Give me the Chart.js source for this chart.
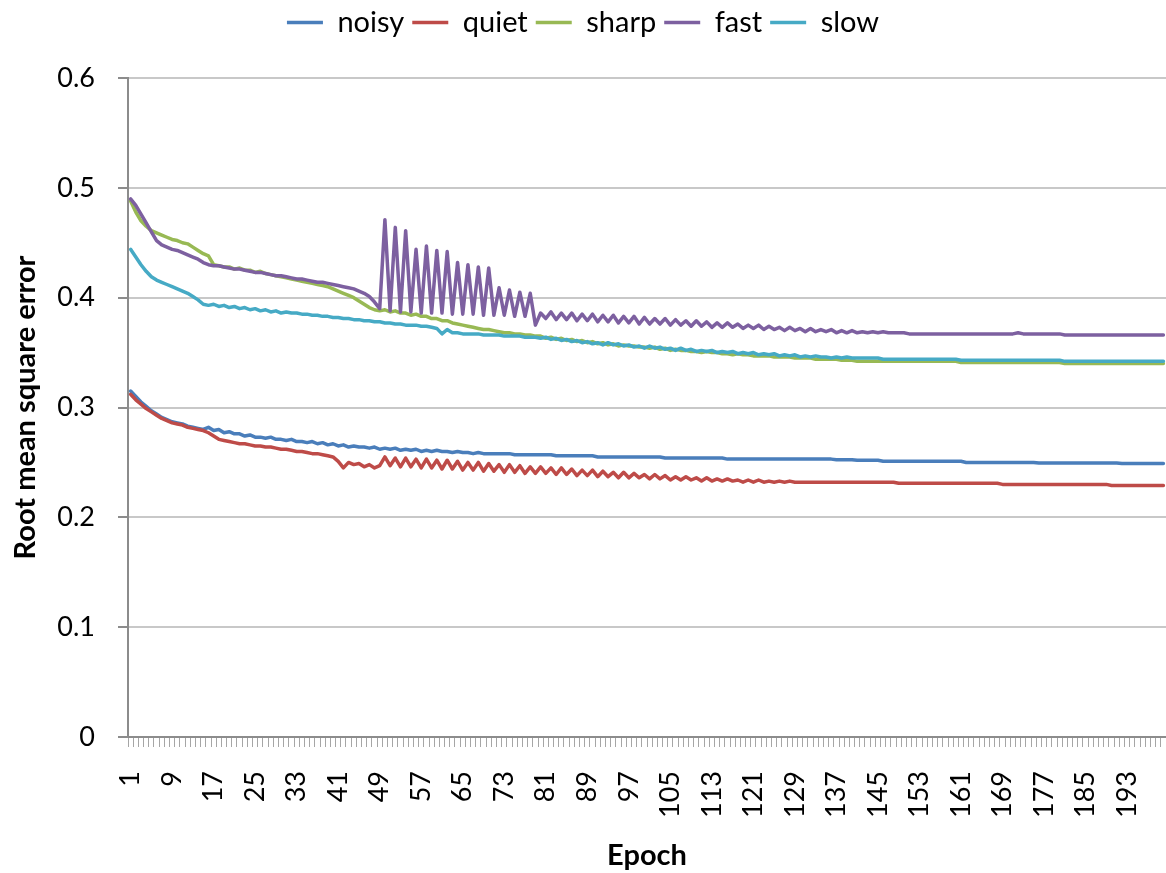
<!DOCTYPE html>
<html>
<head>
<meta charset="utf-8">
<script src="https://cdn.jsdelivr.net/npm/chart.js@4/dist/chart.umd.min.js"></script>
<style>
  body { margin: 0; background: #fff; }
  #wrap { width: 1166px; height: 873px; }
</style>
</head>
<body>
<div id="wrap"><canvas id="rmse" width="1166" height="873"></canvas></div>
<script>
// epochs 1..200 (x categories)
const epochs = [
  1,2,3,4,5,6,7,8,9,10,11,12,13,14,15,16,17,18,19,20,
  21,22,23,24,25,26,27,28,29,30,31,32,33,34,35,36,37,38,39,40,
  41,42,43,44,45,46,47,48,49,50,51,52,53,54,55,56,57,58,59,60,
  61,62,63,64,65,66,67,68,69,70,71,72,73,74,75,76,77,78,79,80,
  81,82,83,84,85,86,87,88,89,90,91,92,93,94,95,96,97,98,99,100,
  101,102,103,104,105,106,107,108,109,110,111,112,113,114,115,116,117,118,119,120,
  121,122,123,124,125,126,127,128,129,130,131,132,133,134,135,136,137,138,139,140,
  141,142,143,144,145,146,147,148,149,150,151,152,153,154,155,156,157,158,159,160,
  161,162,163,164,165,166,167,168,169,170,171,172,173,174,175,176,177,178,179,180,
  181,182,183,184,185,186,187,188,189,190,191,192,193,194,195,196,197,198,199,200
];

const noisy = [
  0.315,0.310,0.305,0.301,0.297,0.294,0.291,0.289,0.287,0.286,
  0.285,0.283,0.282,0.281,0.280,0.282,0.279,0.280,0.277,0.278,
  0.276,0.276,0.274,0.275,0.273,0.273,0.272,0.273,0.271,0.271,
  0.270,0.271,0.269,0.269,0.268,0.269,0.267,0.268,0.266,0.267,
  0.265,0.266,0.264,0.265,0.264,0.264,0.263,0.264,0.262,0.263,
  0.262,0.263,0.261,0.262,0.261,0.262,0.260,0.261,0.260,0.261,
  0.260,0.260,0.259,0.260,0.259,0.259,0.258,0.259,0.258,0.258,
  0.258,0.258,0.258,0.258,0.257,0.257,0.257,0.257,0.257,0.257,
  0.257,0.257,0.256,0.256,0.256,0.256,0.256,0.256,0.256,0.256,
  0.255,0.255,0.255,0.255,0.255,0.255,0.255,0.255,0.255,0.255,
  0.255,0.255,0.255,0.254,0.254,0.254,0.254,0.254,0.254,0.254,
  0.254,0.254,0.254,0.254,0.254,0.253,0.253,0.253,0.253,0.253,
  0.253,0.253,0.253,0.253,0.253,0.253,0.253,0.253,0.253,0.253,
  0.253,0.253,0.253,0.253,0.253,0.253,0.2525,0.2525,0.2525,0.2525,
  0.252,0.252,0.252,0.252,0.252,0.251,0.251,0.251,0.251,0.251,
  0.251,0.251,0.251,0.251,0.251,0.251,0.251,0.251,0.251,0.251,
  0.251,0.250,0.250,0.250,0.250,0.250,0.250,0.250,0.250,0.250,
  0.250,0.250,0.250,0.250,0.250,0.2495,0.2495,0.2495,0.2495,0.2495,
  0.2495,0.2495,0.2495,0.2495,0.2495,0.2495,0.2495,0.2495,0.2495,0.2495,
  0.2495,0.249,0.249,0.249,0.249,0.249,0.249,0.249,0.249,0.249
];

const quiet = [
  0.312,0.307,0.303,0.299,0.296,0.293,0.290,0.288,0.286,0.285,
  0.284,0.282,0.281,0.280,0.279,0.277,0.274,0.271,0.270,0.269,
  0.268,0.267,0.267,0.266,0.265,0.265,0.264,0.264,0.263,0.262,
  0.262,0.261,0.260,0.260,0.259,0.258,0.258,0.257,0.256,0.255,
  0.251,0.245,0.250,0.248,0.249,0.246,0.248,0.245,0.247,0.255,
  0.247,0.254,0.246,0.254,0.246,0.253,0.245,0.253,0.245,0.252,
  0.244,0.252,0.244,0.251,0.243,0.250,0.243,0.250,0.242,0.249,
  0.242,0.248,0.241,0.248,0.241,0.247,0.240,0.246,0.240,0.246,
  0.240,0.245,0.239,0.245,0.239,0.244,0.238,0.243,0.238,0.243,
  0.237,0.242,0.237,0.241,0.236,0.241,0.236,0.240,0.236,0.239,
  0.235,0.239,0.235,0.238,0.234,0.237,0.234,0.237,0.234,0.236,
  0.233,0.236,0.233,0.235,0.233,0.235,0.233,0.234,0.232,0.234,
  0.232,0.234,0.232,0.233,0.232,0.233,0.232,0.233,0.232,0.232,
  0.232,0.232,0.232,0.232,0.232,0.232,0.232,0.232,0.232,0.232,
  0.232,0.232,0.232,0.232,0.232,0.232,0.232,0.232,0.231,0.231,
  0.231,0.231,0.231,0.231,0.231,0.231,0.231,0.231,0.231,0.231,
  0.231,0.231,0.231,0.231,0.231,0.231,0.231,0.231,0.230,0.230,
  0.230,0.230,0.230,0.230,0.230,0.230,0.230,0.230,0.230,0.230,
  0.230,0.230,0.230,0.230,0.230,0.230,0.230,0.230,0.230,0.229,
  0.229,0.229,0.229,0.229,0.229,0.229,0.229,0.229,0.229,0.229
];

const sharp = [
  0.488,0.478,0.470,0.465,0.461,0.459,0.457,0.455,0.453,0.452,
  0.450,0.449,0.446,0.443,0.440,0.438,0.430,0.429,0.428,0.428,
  0.426,0.427,0.425,0.425,0.423,0.424,0.422,0.421,0.420,0.419,
  0.418,0.417,0.416,0.415,0.414,0.413,0.412,0.411,0.410,0.408,
  0.406,0.404,0.402,0.400,0.397,0.394,0.391,0.389,0.388,0.389,
  0.387,0.388,0.386,0.386,0.384,0.385,0.383,0.383,0.381,0.381,
  0.379,0.379,0.377,0.376,0.375,0.374,0.373,0.372,0.371,0.371,
  0.370,0.369,0.368,0.368,0.367,0.367,0.366,0.366,0.365,0.365,
  0.363,0.364,0.362,0.363,0.361,0.362,0.360,0.361,0.359,0.360,
  0.358,0.359,0.357,0.358,0.356,0.357,0.356,0.356,0.355,0.355,
  0.354,0.355,0.353,0.354,0.352,0.353,0.352,0.352,0.351,0.351,
  0.350,0.351,0.350,0.350,0.349,0.349,0.348,0.349,0.348,0.348,
  0.347,0.347,0.347,0.347,0.346,0.346,0.346,0.346,0.345,0.345,
  0.345,0.345,0.344,0.344,0.344,0.344,0.344,0.343,0.343,0.343,
  0.342,0.342,0.342,0.342,0.342,0.342,0.342,0.342,0.342,0.342,
  0.342,0.342,0.342,0.342,0.342,0.342,0.342,0.342,0.342,0.342,
  0.341,0.341,0.341,0.341,0.341,0.341,0.341,0.341,0.341,0.341,
  0.341,0.341,0.341,0.341,0.341,0.341,0.341,0.341,0.341,0.341,
  0.340,0.340,0.340,0.340,0.340,0.340,0.340,0.340,0.340,0.340,
  0.340,0.340,0.340,0.340,0.340,0.340,0.340,0.340,0.340,0.340
];

const fast = [
  0.490,0.484,0.476,0.468,0.460,0.452,0.448,0.446,0.444,0.443,
  0.441,0.439,0.437,0.435,0.432,0.430,0.429,0.429,0.428,0.427,
  0.426,0.426,0.425,0.424,0.423,0.423,0.422,0.421,0.420,0.420,
  0.419,0.418,0.417,0.417,0.416,0.415,0.414,0.414,0.413,0.412,
  0.411,0.410,0.409,0.408,0.406,0.404,0.401,0.396,0.390,0.471,
  0.388,0.464,0.387,0.461,0.387,0.444,0.386,0.447,0.386,0.443,
  0.386,0.442,0.385,0.432,0.385,0.430,0.385,0.428,0.384,0.427,
  0.384,0.409,0.384,0.407,0.383,0.405,0.383,0.404,0.375,0.386,
  0.381,0.387,0.380,0.386,0.380,0.386,0.379,0.385,0.379,0.385,
  0.378,0.384,0.378,0.384,0.377,0.383,0.377,0.383,0.376,0.382,
  0.376,0.381,0.376,0.381,0.375,0.380,0.375,0.379,0.374,0.379,
  0.374,0.378,0.373,0.377,0.373,0.377,0.373,0.376,0.372,0.375,
  0.372,0.375,0.371,0.374,0.371,0.373,0.370,0.373,0.370,0.372,
  0.369,0.372,0.369,0.371,0.369,0.371,0.368,0.370,0.368,0.370,
  0.368,0.369,0.368,0.369,0.368,0.369,0.368,0.368,0.368,0.368,
  0.367,0.367,0.367,0.367,0.367,0.367,0.367,0.367,0.367,0.367,
  0.367,0.367,0.367,0.367,0.367,0.367,0.367,0.367,0.367,0.367,
  0.367,0.368,0.367,0.367,0.367,0.367,0.367,0.367,0.367,0.367,
  0.366,0.366,0.366,0.366,0.366,0.366,0.366,0.366,0.366,0.366,
  0.366,0.366,0.366,0.366,0.366,0.366,0.366,0.366,0.366,0.366
];

const slow = [
  0.444,0.437,0.430,0.424,0.419,0.416,0.414,0.412,0.410,0.408,
  0.406,0.404,0.401,0.398,0.394,0.393,0.394,0.392,0.393,0.391,
  0.392,0.390,0.391,0.389,0.390,0.388,0.389,0.387,0.388,0.386,
  0.387,0.386,0.386,0.385,0.385,0.384,0.384,0.383,0.383,0.382,
  0.382,0.381,0.381,0.380,0.380,0.379,0.379,0.378,0.378,0.377,
  0.377,0.376,0.376,0.375,0.375,0.375,0.374,0.374,0.373,0.372,
  0.367,0.371,0.368,0.368,0.367,0.367,0.367,0.367,0.366,0.366,
  0.366,0.366,0.365,0.365,0.365,0.365,0.364,0.364,0.364,0.363,
  0.364,0.362,0.363,0.361,0.362,0.360,0.361,0.359,0.360,0.358,
  0.359,0.357,0.359,0.357,0.358,0.356,0.357,0.355,0.356,0.354,
  0.356,0.354,0.355,0.353,0.354,0.352,0.354,0.352,0.353,0.351,
  0.352,0.351,0.352,0.350,0.351,0.350,0.351,0.349,0.350,0.349,
  0.350,0.348,0.349,0.348,0.349,0.347,0.348,0.347,0.348,0.346,
  0.347,0.346,0.347,0.346,0.346,0.345,0.346,0.345,0.346,0.345,
  0.345,0.345,0.345,0.345,0.345,0.344,0.344,0.344,0.344,0.344,
  0.344,0.344,0.344,0.344,0.344,0.344,0.344,0.344,0.344,0.344,
  0.343,0.343,0.343,0.343,0.343,0.343,0.343,0.343,0.343,0.343,
  0.343,0.343,0.343,0.343,0.343,0.343,0.343,0.343,0.343,0.343,
  0.342,0.342,0.342,0.342,0.342,0.342,0.342,0.342,0.342,0.342,
  0.342,0.342,0.342,0.342,0.342,0.342,0.342,0.342,0.342,0.342
];

const seriesNames = ['noisy', 'quiet', 'sharp', 'fast', 'slow'];
const seriesColors = ['#4a7ebb', '#be4b48', '#98b954', '#7d60a0', '#46aac5'];
const yTicks = [0, 0.1, 0.2, 0.3, 0.4, 0.5, 0.6];

Chart.defaults.font.family = 'Lato, "Open Sans", sans-serif';
Chart.defaults.color = '#000';

const ctx = document.getElementById('rmse');

// push the plot down below the legend
const legendGap = {
  id: 'legendGap',
  beforeLayout(chart) {
    const lg = chart.legend;
    if (lg && !lg._gapPatched) {
      const fit = lg.fit;
      lg.fit = function () { fit.call(this); this.height += 31; };
      lg._gapPatched = true;
    }
  }
};

// later series drawn on top, like the spreadsheet did
const datasets = [noisy, quiet, sharp, fast, slow].map((values, i) => ({
  label: seriesNames[i],
  data: values,
  borderColor: seriesColors[i],
  backgroundColor: seriesColors[i],
  borderWidth: 3.5,
  borderJoinStyle: 'round',
  borderCapStyle: 'round',
  pointRadius: 0,
  tension: 0,
  fill: false,
  order: 5 - i
}));

new Chart(ctx, {
  type: 'line',
  data: {
    labels: epochs,
    datasets: datasets
  },
  plugins: [legendGap],
  options: {
    responsive: false,
    animation: false,
    layout: { padding: 0 },
    plugins: {
      tooltip: { enabled: false },
      legend: {
        position: 'top',
        labels: {
          usePointStyle: true,
          pointStyle: 'line',
          pointStyleWidth: 36,
          padding: 8,
          color: '#000',
          font: { size: 29 },
          sort: (a, b) => a.datasetIndex - b.datasetIndex
        }
      }
    },
    scales: {
      x: {
        type: 'category',
        offset: true,
        grid: {
          drawOnChartArea: false,
          offset: true,
          tickLength: 10,
          color: '#a6a6a6',
          lineWidth: 1
        },
        border: { color: '#8c8c8c', width: 2 },
        ticks: {
          autoSkip: false,
          minRotation: 90,
          maxRotation: 90,
          padding: 24,
          font: { size: 27 },
          callback: function (v, i) {
            return i % 8 === 0 ? this.getLabelForValue(v) : '';
          }
        },
        title: {
          display: true,
          text: 'Epoch',
          font: { size: 29, weight: 'bold' },
          padding: { top: 0, bottom: 0 }
        },
        afterFit: s => { s.height = 136; s.paddingLeft = 0; s.paddingRight = 0; }
      },
      y: {
        min: 0,
        max: 0.6,
        afterBuildTicks: s => { s.ticks = yTicks.map(v => ({ value: v })); },
        ticks: { padding: 23, font: { size: 27 } },
        grid: {
          color: '#c8c8c8',
          lineWidth: 2,
          tickLength: 10,
          tickColor: '#8c8c8c',
          tickWidth: 2
        },
        border: { color: '#8c8c8c', width: 2 },
        title: {
          display: true,
          text: 'Root mean square error',
          font: { size: 29, weight: 'bold' },
          padding: { top: 8, bottom: 0 }
        },
        afterFit: s => { s.width = 128; }
      }
    }
  }
});
</script>
</body>
</html>
